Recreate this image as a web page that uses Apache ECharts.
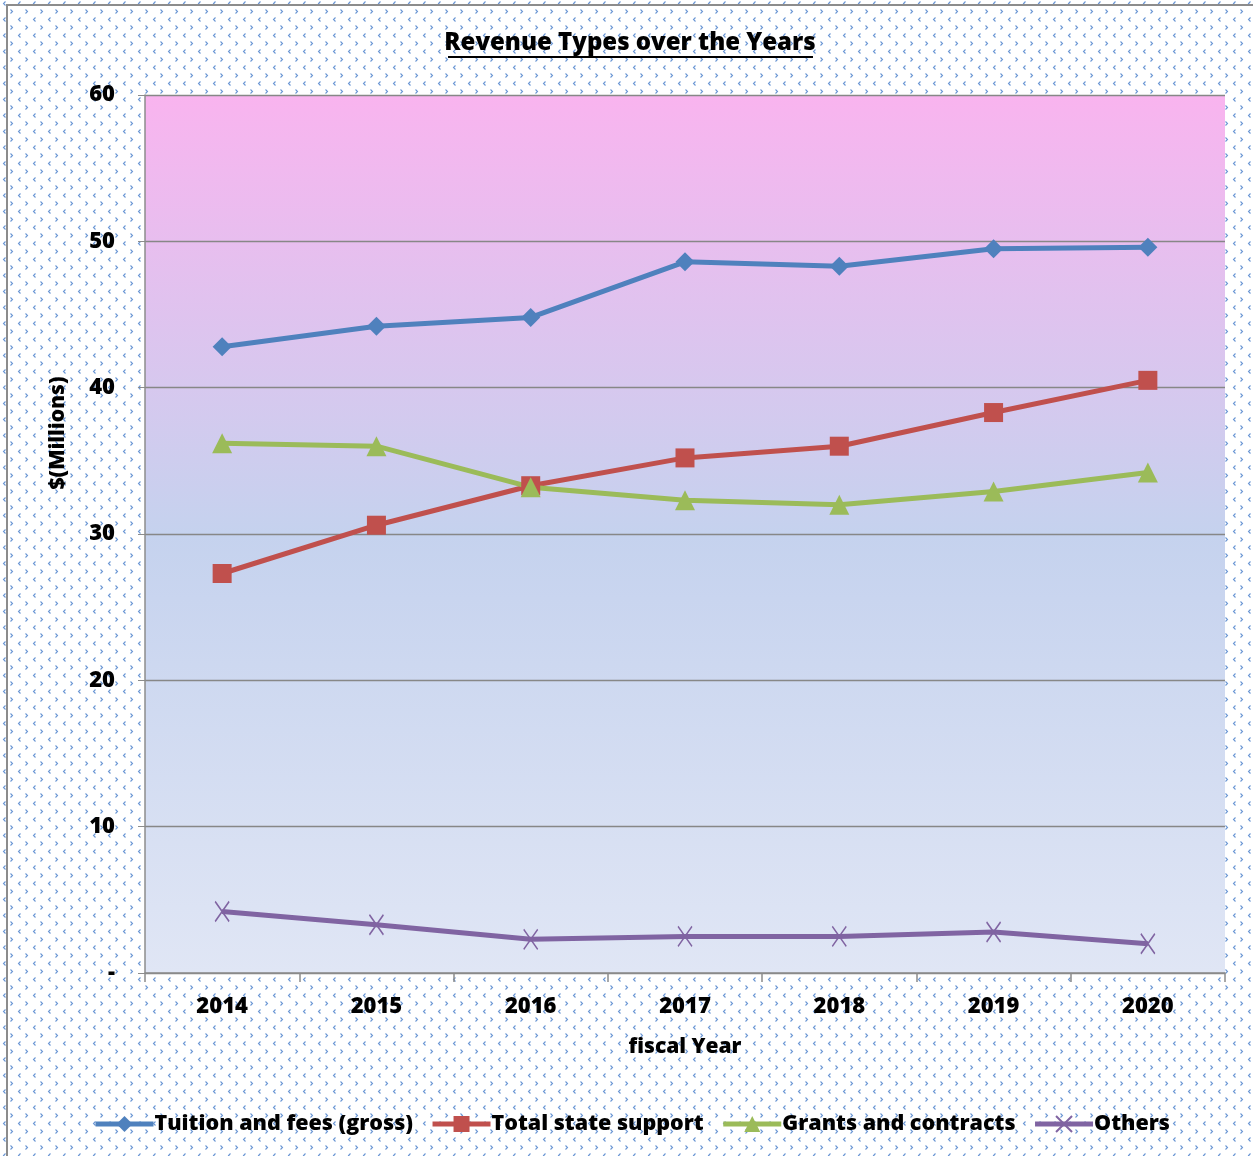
<!DOCTYPE html>
<html>
<head>
<meta charset="utf-8">
<script src="https://cdn.jsdelivr.net/npm/echarts@6/dist/echarts.min.js"></script>
<style>
html,body{margin:0;padding:0;background:#fff;}
#main{width:1253px;height:1156px;}
</style>
</head>
<body>
<div id="main"></div>
<script>
const years = ['2014','2015','2016','2017','2018','2019','2020'];
const tuition = [42.8, 44.2, 44.8, 48.6, 48.3, 49.5, 49.6];
const stateSupport = [27.3, 30.6, 33.3, 35.2, 36.0, 38.3, 40.5];
const grants = [36.2, 36.0, 33.2, 32.3, 32.0, 32.9, 34.2];
const others = [4.2, 3.3, 2.3, 2.5, 2.5, 2.8, 2.0];
const seriesNames = ['Tuition and fees (gross)', 'Total state support', 'Grants and contracts', 'Others'];

// background pattern tile
const tile = document.createElement('canvas');
tile.width = 15; tile.height = 16;
const c = tile.getContext('2d');
c.fillStyle = '#ffffff';
c.fillRect(0,0,15,16);
c.strokeStyle = '#6a96d4';
c.lineWidth = 1.1;
c.beginPath(); // '<'
c.moveTo(5.5,1.5); c.lineTo(3.5,3.5); c.lineTo(5.5,5.5);
c.stroke();
c.beginPath(); // '>'
c.moveTo(10.5,9.5); c.lineTo(12.5,11.5); c.lineTo(10.5,13.5);
c.stroke();

const FONT = '"Open Sans", "Noto Sans", sans-serif';
const W = 800;
const chart = echarts.init(document.getElementById('main'));
const xSym = 'path://M0,0L14,20M14,0L0,20';

chart.setOption({
  backgroundColor: {image: tile, repeat: 'repeat'},
  animation: false,
  graphic: [
    {type: 'rect', shape: {x: 7, y: 5, width: 1300, height: 1200}, style: {fill: 'none', stroke: '#8c8c8c', lineWidth: 2}, silent: true},
    {type: 'text', x: 630, y: 43, style: {text: 'Revenue Types over the Years', font: W + ' 24px ' + FONT, fill: '#000', textAlign: 'center', textVerticalAlign: 'middle'}},
    {type: 'line', shape: {x1: 448, y1: 57, x2: 813, y2: 57}, style: {stroke: '#000', lineWidth: 2}},
    {type: 'text', x: 58, y: 433, rotation: Math.PI / 2, style: {text: '$(Millions)', font: W + ' 21px ' + FONT, fill: '#000', textAlign: 'center', textVerticalAlign: 'middle'}}
  ],
  grid: {
    left: 145, right: 28, top: 95, bottom: 183,
    show: true,
    borderWidth: 0,
    backgroundColor: new echarts.graphic.LinearGradient(0, 0, 0, 1, [
      {offset: 0, color: '#f9b4ef'},
      {offset: 0.5, color: '#c5d2ee'},
      {offset: 1, color: '#e0e6f5'}
    ])
  },
  legend: {
    data: seriesNames,
    top: 1108,
    left: 88,
    itemWidth: 58,
    itemHeight: 20,
    itemGap: 17,
    lineStyle: {width: 5},
    textStyle: {fontFamily: FONT, fontWeight: W, fontSize: 21.5, color: '#000', padding: [0,0,0,-4]}
  },
  xAxis: {
    type: 'category',
    data: years,
    boundaryGap: true,
    name: 'fiscal Year',
    nameLocation: 'middle',
    nameGap: 64,
    nameTextStyle: {fontFamily: FONT, fontWeight: W, fontSize: 21, color: '#000'},
    axisLine: {lineStyle: {color: '#8c8c8c', width: 1.5}},
    axisTick: {show: true, length: 9, lineStyle: {color: '#8c8c8c', width: 1.5}},
    axisLabel: {fontFamily: FONT, fontWeight: W, fontSize: 22, color: '#000', margin: 23}
  },
  yAxis: {
    type: 'value',
    min: 0, max: 60, interval: 10,
    axisLine: {show: true, lineStyle: {color: '#8c8c8c', width: 1.5}},
    axisTick: {show: true, length: 7, lineStyle: {color: '#8c8c8c'}},
    axisLabel: {fontFamily: FONT, fontWeight: W, fontSize: 22, color: '#000', margin: 30,
      formatter: v => v === 0 ? '-' : String(v)},
    splitLine: {show: true, lineStyle: {color: '#878787', width: 1.3}}
  },
  series: [
    {name: seriesNames[0], type: 'line', data: tuition, symbol: 'diamond', symbolSize: 19,
      lineStyle: {color: '#4f81bd', width: 5}, itemStyle: {color: '#4f81bd'}},
    {name: seriesNames[1], type: 'line', data: stateSupport, symbol: 'rect', symbolSize: 19,
      lineStyle: {color: '#c0504d', width: 5}, itemStyle: {color: '#c0504d'}},
    {name: seriesNames[2], type: 'line', data: grants, symbol: 'triangle', symbolSize: 20,
      lineStyle: {color: '#9bbb59', width: 5}, itemStyle: {color: '#9bbb59'}},
    {name: seriesNames[3], type: 'line', data: others, symbol: xSym, symbolSize: [14, 20],
      lineStyle: {color: '#8064a2', width: 5}, itemStyle: {color: '#8064a2', borderColor: '#8064a2', borderWidth: 1.6}}
  ]
});
</script>
</body>
</html>
